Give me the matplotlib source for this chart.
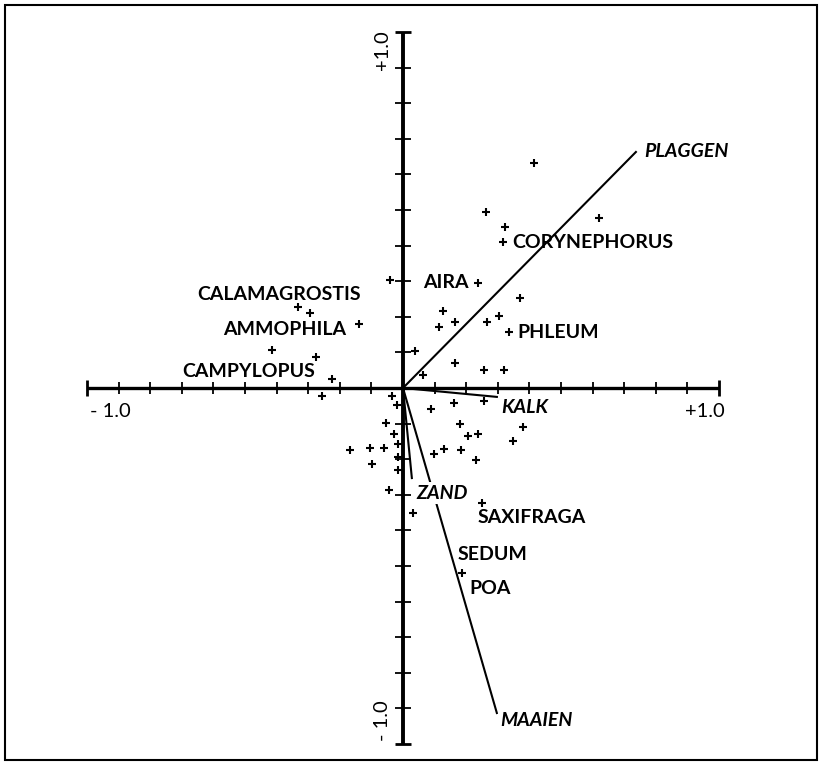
import matplotlib
matplotlib.use("Agg")
from matplotlib import pyplot as plt
from matplotlib.patches import Rectangle
import numpy as np

plt.rcParams['font.family'] = ['Lato', 'DejaVu Sans']

# species scores (axis 1, axis 2)
sp_x = [0.415, 0.263, 0.323, 0.316, 0.620, -0.041, 0.237, 0.370, 0.127, 0.114,
        0.165, 0.266, 0.304, 0.335, 0.038, 0.165, 0.063, 0.256, 0.320, -0.332,
        -0.294, -0.139, -0.415, -0.275, -0.225, -0.256, -0.035, -0.019, -0.054, -0.028,
        -0.104, -0.060, -0.016, -0.168, -0.098, -0.016, -0.016, -0.044, 0.032, 0.089,
        0.161, 0.256, 0.180, 0.206, 0.237, 0.380, 0.348, 0.098, 0.130, 0.184,
        0.231, 0.250, 0.187]
sp_y = [0.632, 0.494, 0.452, 0.410, 0.478, 0.303, 0.295, 0.253, 0.216, 0.171,
        0.185, 0.185, 0.202, 0.157, 0.104, 0.070, 0.037, 0.051, 0.051, 0.228,
        0.211, 0.180, 0.107, 0.087, 0.025, -0.022, -0.022, -0.048, -0.098, -0.129,
        -0.169, -0.169, -0.157, -0.174, -0.213, -0.194, -0.230, -0.287, -0.351, -0.059,
        -0.042, -0.037, -0.101, -0.135, -0.129, -0.110, -0.149, -0.185, -0.171, -0.174,
        -0.202, -0.323, -0.520]

# named species: label, text x, text y
names = ['CALAMAGROSTIS', 'AMMOPHILA', 'CAMPYLOPUS', 'AIRA', 'CORYNEPHORUS',
         'PHLEUM', 'SAXIFRAGA', 'SEDUM', 'POA']
name_x = [-0.652, -0.570, -0.699, 0.063, 0.345, 0.361, 0.237, 0.174, 0.209]
name_y = [0.264, 0.163, 0.045, 0.295, 0.410, 0.157, -0.365, -0.469, -0.562]

# environmental variables (arrow tips) and their labels
env = ['PLAGGEN', 'KALK', 'ZAND', 'MAAIEN']
env_x = [0.737, 0.297, 0.028, 0.297]
env_y = [0.663, -0.025, -0.253, -0.913]
env_lx = [0.763, 0.310, 0.041, 0.307]
env_ly = [0.663, -0.056, -0.295, -0.933]

ticks = np.round(np.arange(-0.9, 0.95, 0.1), 2)
ticks = ticks[ticks != 0]

fig = plt.figure(figsize=(8.22, 7.65), dpi=100)
ax = fig.add_axes([0, 0, 1, 1])
ax.set_xlim(-1.2753, 1.3259)
ax.set_ylim(-1.0590, 1.0899)
ax.axis('off')

# frame round the figure
fig.patches.append(Rectangle((5 / 822, 5 / 765), 812 / 822, 755 / 765,
                             transform=fig.transFigure, fill=False,
                             edgecolor='black', lw=1.5))

# axes through the origin
ax.plot([-1, 1], [0, 0], color='black', lw=2.4, solid_capstyle='butt')
ax.plot([0, 0], [-1, 1], color='black', lw=2.8, solid_capstyle='butt')
ax.plot(ticks, np.zeros_like(ticks), ls='none', marker='|', ms=9, mew=1.3, color='black')
ax.plot(np.zeros_like(ticks), ticks, ls='none', marker='_', ms=11, mew=1.3, color='black')
ax.plot([-1, 1], [0, 0], ls='none', marker='|', ms=11, mew=2, color='black')
ax.plot([0, 0], [-1, 1], ls='none', marker='_', ms=12, mew=2, color='black')

ax.text(-0.927, -0.067, '- 1.0', fontsize=14.5, ha='center', va='center')
ax.text(0.956, -0.067, '+1.0', fontsize=14.5, ha='center', va='center')
ax.text(-0.066, 0.949, '+1.0', fontsize=14.5, ha='center', va='center', rotation=90)
ax.text(-0.066, -0.935, '- 1.0', fontsize=14.5, ha='center', va='center', rotation=90)

# environmental vectors
for x, y in zip(env_x, env_y):
    ax.plot([0, x], [0, y], color='black', lw=1.5)
for lab, x, y in zip(env, env_lx, env_ly):
    ax.text(x, y, lab, fontsize=14, style='italic', fontweight='bold',
            ha='left', va='center',
            bbox=dict(facecolor='white', edgecolor='none', pad=1.5))

# species
ax.plot(sp_x, sp_y, ls='none', marker='+', ms=6, mew=1.5, color='black')
for lab, x, y in zip(names, name_x, name_y):
    ax.text(x, y, lab, fontsize=14, fontweight='bold', ha='left', va='center')

plt.savefig('out.png', dpi=100)
